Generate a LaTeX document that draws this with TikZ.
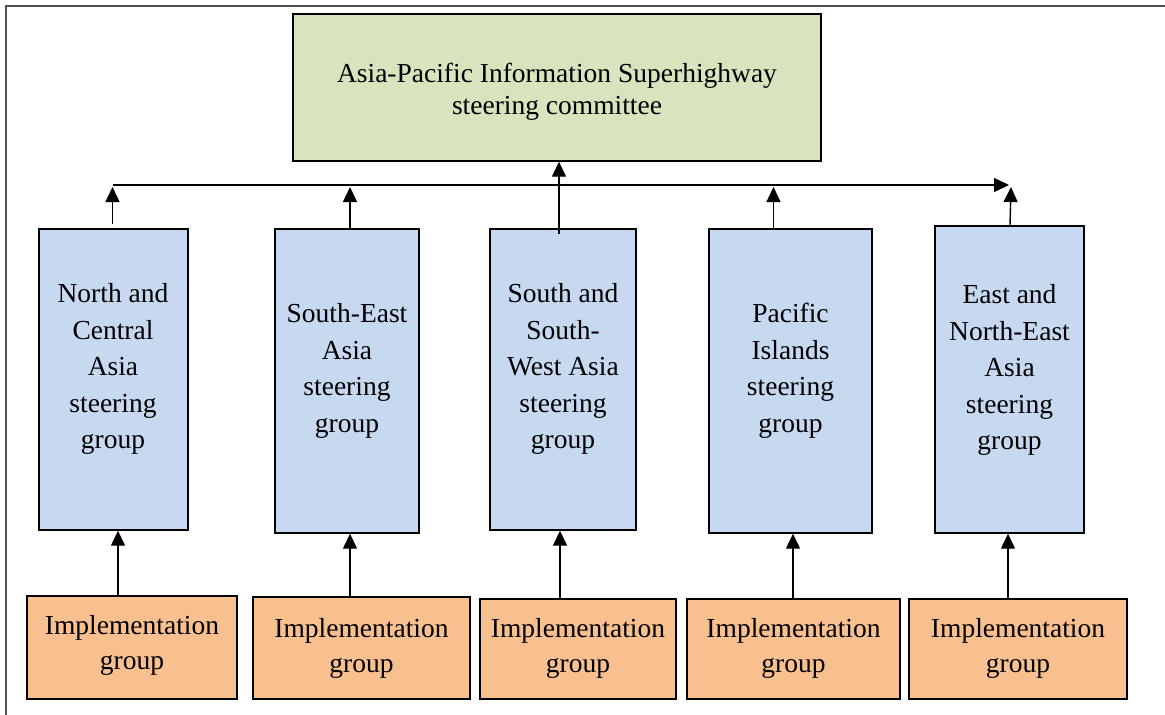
\documentclass[tikz,border=0pt]{standalone}
\usepackage{fontspec}
\setmainfont{Liberation Serif}
\usetikzlibrary{arrows.meta,calc}
\definecolor{topgreen}{HTML}{D7E4BD}
\definecolor{grpblue}{HTML}{C6D9F1}
\definecolor{implorange}{HTML}{F9C08F}
\definecolor{framegray}{HTML}{505050}
\tikzset{
  box/.style={draw=black, line width=1.4pt, rectangle, inner sep=0pt},
  topbox/.style={box, fill=topgreen},
  bluebox/.style={box, fill=grpblue},
  orangebox/.style={box, fill=implorange},
  txt/.style={align=center, inner sep=0pt, font=\fontsize{27.5}{36.5}\selectfont},
  impltxt/.style={align=center, inner sep=0pt, font=\fontsize{27.5}{35}\selectfont},
  toptxt/.style={align=center, inner sep=0pt, font=\fontsize{27.5}{32}\selectfont},
  arr/.style={line width=1.4pt, -{Triangle[length=15pt,width=14pt]}},
  frameline/.style={draw=framegray, line width=1.5pt}
}
\begin{document}
\begin{tikzpicture}[x=1pt,y=-1pt]
\useasboundingbox (0,0) rectangle (1165,715);
\fill[white] (0,0) rectangle (1165,715);
% outer frame (top and left)
\draw[frameline] (6,715) -- (6,6) -- (1165,6);

% top committee
\node[topbox, minimum width=528pt, minimum height=147pt] (top) at (557,87.5) {};
\node[toptxt] (toplbl) at (557,92) {Asia-Pacific Information Superhighway\\steering committee};

% steering groups
\node[bluebox, minimum width=149pt, minimum height=301pt] (b1) at (113.5,379.5) {};
\node[bluebox, minimum width=144pt, minimum height=304pt] (b2) at (347,381) {};
\node[bluebox, minimum width=146pt, minimum height=301pt] (b3) at (563,379.5) {};
\node[bluebox, minimum width=163pt, minimum height=304pt] (b4) at (790.5,381) {};
\node[bluebox, minimum width=149pt, minimum height=307pt] (b5) at (1009.5,379.5) {};

\node[txt] (t1) at (113,369) {North and\\Central\\Asia\\steering\\group};
\node[txt] (t2) at (347,371) {South-East\\Asia\\steering\\group};
\node[txt] (t3) at (563,369) {South and\\South-\\West Asia\\steering\\group};
\node[txt] (t4) at (790.5,371) {Pacific\\Islands\\steering\\group};
\node[txt] (t5) at (1009.5,370) {East and\\North-East\\Asia\\steering\\group};

% implementation groups
\node[orangebox, minimum width=210pt, minimum height=103pt] (i1) at (132,647.5) {};
\node[orangebox, minimum width=217pt, minimum height=102pt] (i2) at (361.5,648) {};
\node[orangebox, minimum width=196pt, minimum height=100pt] (i3) at (578,649) {};
\node[orangebox, minimum width=213pt, minimum height=100pt] (i4) at (793.5,649) {};
\node[orangebox, minimum width=218pt, minimum height=100pt] (i5) at (1018,649) {};

\foreach \n/\y in {1/645,2/648,3/648,4/648,5/648}{
  \node[impltxt] (it\n) at (i\n |- 0,\y) {Implementation\\group};
}

% bus line
\coordinate (busL) at (113,185);
\coordinate (busR) at (1009,185);
\draw[arr] (busL) -- (busR);

% arrows from steering groups up to the bus
\draw[arr] ($(b1.north)+(-1,-4)$) -- ($(b1.north |- busL)+(-1,2)$);
\draw[arr] ($(b2.north)+(3,0)$) -- ($(b2.north |- busL)+(3,2)$);
\draw[arr] ($(b4.north)+(-17,0)$) -- ($(b4.north |- busL)+(-17,2)$);
\draw[arr] ($(b5.north)+(0.5,0)$) -- ($(b5.north |- busL)+(1.5,2)$);
% arrow from middle group to committee
\draw[arr] ($(b3.north)+(-4,6)$) -- ($(top.south -| b3.north)+(-4,0)$);

% arrows from implementation groups
\draw[arr] (i1.north -| 118,0) -- (b1.south -| 118,0);
\draw[arr] (i2.north -| 350,0) -- (b2.south -| 350,0);
\draw[arr] (i3.north -| 560,0) -- (b3.south -| 560,0);
\draw[arr] (i4.north -| 793,0) -- (b4.south -| 793,0);
\draw[arr] (i5.north -| 1008,0) -- (b5.south -| 1008,0);
\end{tikzpicture}
\end{document}
